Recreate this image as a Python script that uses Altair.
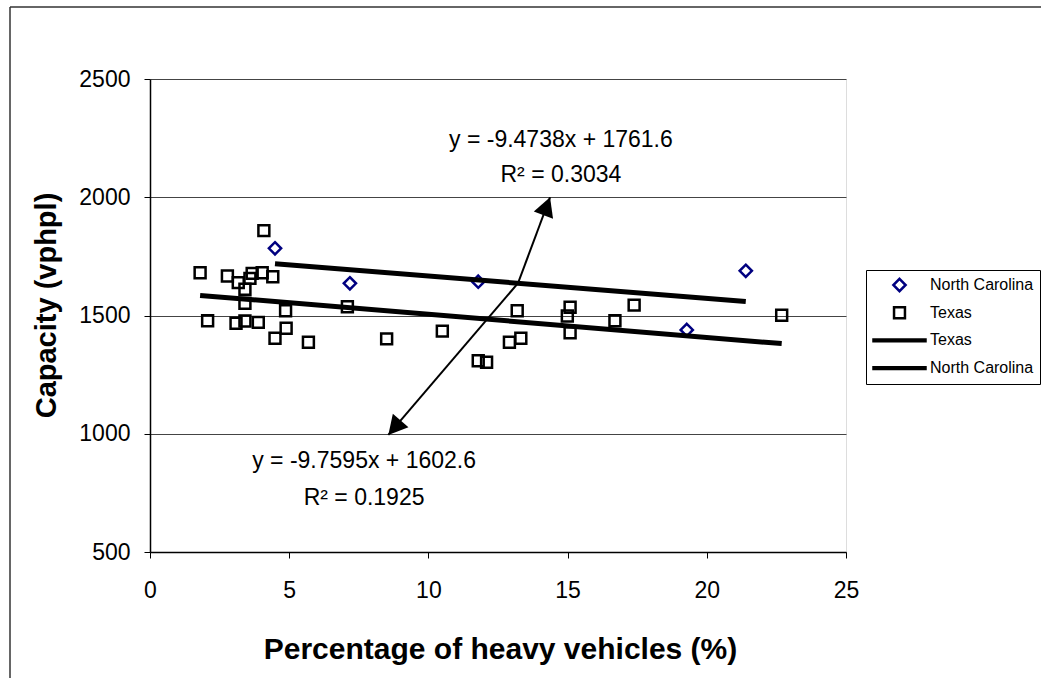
import math
import altair as alt
import pandas as pd

# ---------------- data ----------------
tx_x = [4.09, 1.80, 2.78, 3.17, 3.41, 3.67, 3.59, 4.03, 4.41, 3.41, 4.87, 7.09,
        2.07, 3.09, 3.41, 3.89, 4.89, 4.49, 5.69, 8.50, 10.50, 11.79, 12.09,
        13.19, 15.09, 14.99, 15.09, 16.70, 17.39, 22.69, 12.91, 13.32]
tx_y = [1859, 1681, 1667, 1639, 1611, 1678, 1657, 1681, 1664, 1552, 1520, 1537,
        1478, 1467, 1477, 1471, 1446, 1404, 1387, 1401, 1434, 1309, 1302,
        1520, 1535, 1498, 1427, 1478, 1544, 1501, 1387, 1404]
nc_x = [4.49, 7.18, 11.79, 21.40, 19.28]
nc_y = [1784, 1636, 1643, 1689, 1439]

# trend line equations shown on the chart
nc_slope, nc_icpt, nc_r2 = -9.4738, 1761.6, 0.3034
tx_slope, tx_icpt, tx_r2 = -9.7595, 1602.6, 0.1925

x_ticks = [0, 5, 10, 15, 20, 25]
y_ticks = [500, 1000, 1500, 2000, 2500]

legend_domain = ["North Carolina", "Texas", "Texas ", "North Carolina "]

# annotation anchors (data units)
label_x = [14.76, 14.76, 7.69, 7.69]
label_y = [2242, 2094, 885, 728]
label_text = [f"y = {nc_slope}x + {nc_icpt}", f"R\u00b2 = {nc_r2}",
              f"y = {tx_slope}x + {tx_icpt}", f"R\u00b2 = {tx_r2}"]
arrow_start = (13.22, 1637)
arrow_tips_x = [14.37, 8.56]
arrow_tips_y = [2000, 995]

# ---------------- layout ----------------
W, H = 696, 473
PAD_L, PAD_T = 150, 79
FONT = "Liberation Sans"

pts = pd.DataFrame({
    "x": nc_x + tx_x,
    "y": nc_y + tx_y,
    "series": ["North Carolina"] * len(nc_x) + ["Texas"] * len(tx_x),
})

trend_rows = []
for name, xs_, m, b in [("NC", nc_x, nc_slope, nc_icpt), ("TX", tx_x, tx_slope, tx_icpt)]:
    for xv in (min(xs_), max(xs_)):
        trend_rows.append({"x": xv, "y": m * xv + b, "series": name})
trend = pd.DataFrame(trend_rows)

labels = pd.DataFrame({"x": label_x, "y": label_y, "text": label_text})

arrows = pd.DataFrame({
    "x": [arrow_start[0]] * 2, "y": [arrow_start[1]] * 2,
    "x2": arrow_tips_x, "y2": arrow_tips_y,
})
angles = []
for tx, ty in zip(arrow_tips_x, arrow_tips_y):
    dxp = (tx - arrow_start[0]) * W / 25
    dyp = -(ty - arrow_start[1]) * H / 2000
    angles.append((math.degrees(math.atan2(dxp, -dyp)) + 360) % 360)
heads = pd.DataFrame({"x": arrow_tips_x, "y": arrow_tips_y, "angle": angles})

# symbol paths (unit = 26 px at size 2704)
diamond = "M0,-0.235L0.235,0L0,0.235L-0.235,0Z"
square = "M-0.21,-0.21L0.21,-0.21L0.21,0.21L-0.21,0.21Z"
bar = "M-1,-0.035L1,-0.035L1,0.035L-1,0.035Z"
arrow_head = "M0,0L0.54,1L-0.54,1Z"

x_axis = alt.Axis(
    values=x_ticks, format="d", grid=False, title="Percentage of heavy vehicles (%)",
    domainColor="black", domainWidth=1.5, tickColor="black", tickSize=6, tickWidth=1,
    labelFont=FONT, labelFontSize=23, labelColor="black", labelPadding=21,
    labelFlush=False, labelOverlap=False,
    titleFont=FONT, titleFontSize=30, titleFontWeight="bold", titleColor="black",
    titleX=350, titleY=106, titleBaseline="alphabetic", titleAlign="center",
)
y_axis = alt.Axis(
    values=y_ticks, format="d", grid=True, gridColor="#444444", gridWidth=1,
    title="Capacity (vphpl)",
    domainColor="black", domainWidth=1.5, tickColor="black", tickSize=6, tickWidth=1,
    labelFont=FONT, labelFontSize=23, labelColor="black", labelPadding=14,
    titleFont=FONT, titleFontSize=29, titleFontWeight="bold", titleColor="black",
    titleX=-104, titleY=226, titleAngle=-90, titleAlign="center", titleBaseline="middle",
)
xs = alt.Scale(domain=[0, 25], nice=False, zero=False)
ys = alt.Scale(domain=[500, 2500], nice=False, zero=False)

X = alt.X("x:Q", scale=xs, axis=x_axis)
Y = alt.Y("y:Q", scale=ys, axis=y_axis)

legend = alt.Legend(
    title=None, orient="none", legendX=716, legendY=191, padding=6,
    strokeColor="black", fillColor="white",
    symbolSize=2704, symbolStrokeWidth=2.5, clipHeight=18, rowPadding=9.7,
    labelFont=FONT, labelFontSize=16, labelColor="black", labelOffset=3,
    labelExpr="trim(datum.label)",
)

points = alt.Chart(pts).mark_point(filled=False, size=2704, strokeWidth=2.5, opacity=1).encode(
    x=X, y=Y,
    shape=alt.Shape("series:N", scale=alt.Scale(domain=legend_domain,
                                                range=[diamond, square, bar, bar]), legend=legend),
    color=alt.Color("series:N", scale=alt.Scale(domain=legend_domain,
                                                range=["#000080", "black", "black", "black"]), legend=legend),
)

lines = alt.Chart(trend).mark_line(color="black", strokeWidth=5).encode(
    x=X, y=Y, detail="series:N")

arrow_lines = alt.Chart(arrows).mark_rule(color="black", strokeWidth=2).encode(
    x=X, y=Y, x2="x2:Q", y2="y2:Q")

arrow_heads = alt.Chart(heads).mark_point(
    filled=True, color="black", size=1444, shape=arrow_head, opacity=1, strokeWidth=0
).encode(x=X, y=Y, angle=alt.Angle("angle:Q", scale=None))

texts = alt.Chart(labels).mark_text(
    font=FONT, fontSize=23, color="black", align="center", baseline="middle"
).encode(x=X, y=Y, text="text:N")

frame_src = pd.DataFrame({"k": [0]})
frame_top = alt.Chart(frame_src).mark_rule(color="#333333", strokeWidth=1.5).encode(
    x=alt.value(10 - PAD_L), x2=alt.value(1041 - PAD_L + 5), y=alt.value(7 - PAD_T))
frame_left = alt.Chart(frame_src).mark_rule(color="#333333", strokeWidth=1.5).encode(
    x=alt.value(10 - PAD_L), y=alt.value(7 - PAD_T), y2=alt.value(678 - PAD_T + 5))

chart = alt.layer(points, lines, arrow_lines, arrow_heads, texts, frame_top, frame_left).properties(
    width=W, height=H,
    autosize=alt.AutoSizeParams(type="none"),
    padding={"left": PAD_L, "top": PAD_T, "right": 1041 - PAD_L - W, "bottom": 678 - PAD_T - H},
    background="white",
).configure_view(stroke="#808080", strokeWidth=2).configure(font=FONT)

chart.save("out.html", embed_options={"renderer": "svg", "actions": False})
